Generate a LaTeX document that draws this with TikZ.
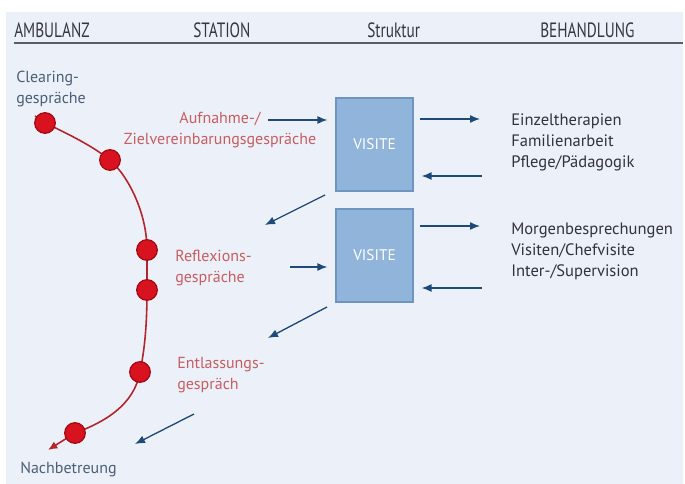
\documentclass[tikz,border=0pt]{standalone}
\usepackage{fontspec}
\setmainfont{PT Sans}
\newfontfamily\headfont{PT Sans}[FakeStretch=0.74]
\usetikzlibrary{arrows.meta}

\definecolor{paper}{HTML}{ECF0F8}
\definecolor{rulegray}{HTML}{5A5D63}
\definecolor{headgray}{HTML}{34373D}
\definecolor{slate}{HTML}{4B5F78}
\definecolor{softred}{HTML}{C65E63}
\definecolor{listgray}{HTML}{303338}
\definecolor{boxblue}{HTML}{91B4DA}
\definecolor{boxedge}{HTML}{6E94C2}
\definecolor{arrowblue}{HTML}{1F4A78}
\definecolor{dotred}{HTML}{D8121F}
\definecolor{dotedge}{HTML}{9E0A14}
\definecolor{pathred}{HTML}{B3262E}

\begin{document}
\begin{tikzpicture}[x=0.75pt,y=-0.75pt,
	head/.style={anchor=base west,inner sep=0pt,text=headgray,font=\headfont\fontsize{15.5}{17}\selectfont},
	txt/.style={inner sep=0pt,align=left,font=\fontsize{12}{15.5}\selectfont},
	dot/.style={circle,fill=dotred,draw=dotedge,line width=0.9pt,minimum size=15.5pt,inner sep=0pt},
	visite/.style={draw=boxedge,fill=boxblue,line width=0.9pt,minimum width=57.75pt,minimum height=69.75pt,text=white,font=\fontsize{11.5}{13}\selectfont},
	arr/.style={arrowblue,line width=1pt,-{Latex[length=7.5pt,width=6pt]}}]
		% background and header
		\useasboundingbox (0,0) rectangle (685,484);
		\fill[white] (0,0) rectangle (685,484);
		\fill[paper] (6,12) rectangle (683,484);
		\node[head] (amb) at (14,38) {AMBULANZ};
		\node[head] (sta) at (193,38) {STATION};
		\node[head] (str) at (367,38) {Struktur};
		\node[head] (beh) at (540,38) {BEHANDLUNG};
		\draw[rulegray,line width=1.3pt] (14,43) -- (683,43);
		% the way through the stay
		\coordinate (p0) at (35,116);
		\coordinate (p1) at (45,123);
		\coordinate (p2) at (110,160);
		\coordinate (p3) at (147,250);
		\coordinate (p4) at (147,290);
		\coordinate (p5) at (140,372);
		\coordinate (p6) at (75,433);
		\coordinate (p7) at (48,450);
		\draw[pathred,line width=1.2pt] (p0) -- (p1) .. controls (75,137) and (95,148) .. (p2)
			.. controls (130,178) and (147,215) .. (p3) -- (p4)
			.. controls (147,330) and (144,352) .. (p5)
			.. controls (134,405) and (105,422) .. (p6);
		\draw[pathred,line width=1.2pt,-{Latex[length=7pt,width=6pt]}] (p6) -- (p7);
		\foreach \i in {1,...,6}
			\node[dot] (d\i) at (p\i) {};
		% texts on the left
		\node[txt,anchor=west,text=slate] (clear) at (16,89) {Clearing-\\gespräche};
		\node[txt,anchor=west,text=slate] (nach) at (20,470) {Nachbetreung};
		\node[txt,align=center,text=softred] (aufn) at (220,130) {Aufnahme-/\\Zielvereinbarungsgespräche};
		\node[txt,anchor=west,text=softred] (refl) at (175,268) {Reflexions-\\gespräche};
		\node[txt,anchor=west,text=softred] (entl) at (177,375) {Entlassungs-\\gespräch};
		% the two VISITE boxes
		\node[visite] (v1) at (374.5,144.5) {VISITE};
		\node[visite] (v2) at (374.5,255.5) {VISITE};
		% treatment lists
		\node[txt,anchor=west,text=listgray,font=\fontsize{12.4}{15.7}\selectfont] (list1) at (511,142) {Einzeltherapien\\Familienarbeit\\Pflege/Pädagogik};
		\node[txt,anchor=west,text=listgray,font=\fontsize{12.4}{15.7}\selectfont] (list2) at (511,251) {Morgenbesprechungen\\Visiten/Chefvisite\\Inter-/Supervision};
		% arrows
		\coordinate (a1) at (268,120);
		\coordinate (a2) at (290,267);
		\draw[arr] (a1) -- ([xshift=-6pt]v1.west |- a1);
		\draw[arr] (a2) -- ([xshift=-6pt]v2.west |- a2);
		\coordinate (r1) at (480,119);
		\coordinate (l1) at (482,176);
		\coordinate (r2) at (480,226);
		\coordinate (l2) at (482,288);
		\draw[arr] ([xshift=5pt]v1.east |- r1) -- (r1);
		\draw[arr] (l1) -- ([xshift=6pt]v1.east |- l1);
		\draw[arr] ([xshift=5pt]v2.east |- r2) -- (r2);
		\draw[arr] (l2) -- ([xshift=6pt]v2.east |- l2);
		\coordinate (s1) at (325,195);
		\coordinate (t1) at (265,225);
		\coordinate (s2) at (327,307);
		\coordinate (t2) at (268,338);
		\coordinate (s3) at (194,414);
		\coordinate (t3) at (135,444);
		\draw[arr] (s1) -- (t1);
		\draw[arr] (s2) -- (t2);
		\draw[arr] (s3) -- (t3);
\end{tikzpicture}
\end{document}
